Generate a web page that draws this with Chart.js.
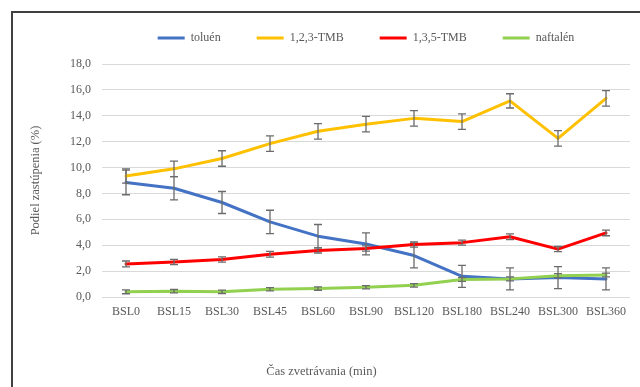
<!DOCTYPE html>
<html>
<head>
<meta charset="utf-8">
<script src="https://cdn.jsdelivr.net/npm/chart.js@4/dist/chart.umd.min.js"></script>
<style>
  html, body { margin: 0; padding: 0; background: #fff; overflow: hidden; }
  #frame {
    position: absolute; left: 11px; top: 11px; width: 700px; height: 400px;
    border-top: 2px solid #404040; border-left: 2px solid #404040;
  }
  #canvas { position: absolute; left: 0; top: 0; }
</style>
</head>
<body>
<div id="frame"><canvas id="canvas" width="627" height="374"></canvas></div>
<script>
const categories = ['BSL0', 'BSL15', 'BSL30', 'BSL45', 'BSL60', 'BSL90', 'BSL120', 'BSL180', 'BSL240', 'BSL300', 'BSL360'];

const toluen = [8.85, 8.4, 7.3, 5.8, 4.7, 4.1, 3.2, 1.6, 1.4, 1.5, 1.4];
const toluenErr = [0.95, 0.9, 0.85, 0.9, 0.9, 0.85, 0.95, 0.85, 0.85, 0.85, 0.85];

const tmb123 = [9.35, 9.9, 10.7, 11.85, 12.8, 13.35, 13.8, 13.55, 15.15, 12.25, 15.35];
const tmb123Err = [0.55, 0.6, 0.6, 0.6, 0.6, 0.6, 0.6, 0.6, 0.55, 0.6, 0.6];

const tmb135 = [2.55, 2.7, 2.9, 3.3, 3.6, 3.75, 4.05, 4.2, 4.65, 3.7, 4.95];
const tmb135Err = [0.23, 0.2, 0.2, 0.22, 0.2, 0.2, 0.2, 0.2, 0.22, 0.2, 0.22];

const naftalen = [0.4, 0.45, 0.4, 0.6, 0.65, 0.75, 0.9, 1.35, 1.4, 1.65, 1.7];
const naftalenErr = [0.15, 0.13, 0.13, 0.13, 0.13, 0.13, 0.13, 0.15, 0.15, 0.15, 0.15];

const serif = "'Liberation Serif', 'Times New Roman', serif";
const textColor = '#595959';

// vertical error bars with caps, drawn right after each line
const errorBars = {
  id: 'errorBars',
  afterDatasetDraw(chart, args) {
    const ds = chart.data.datasets[args.index];
    if (!ds.errors) return;
    const ctx = chart.ctx;
    const y = chart.scales.y;
    ctx.save();
    ctx.strokeStyle = '#6b6b6b';
    ctx.lineWidth = 1.3;
    args.meta.data.forEach((pt, i) => {
      const top = y.getPixelForValue(ds.data[i] + ds.errors[i]);
      const bottom = y.getPixelForValue(ds.data[i] - ds.errors[i]);
      ctx.beginPath();
      ctx.moveTo(pt.x, top);
      ctx.lineTo(pt.x, bottom);
      ctx.moveTo(pt.x - 4, top);
      ctx.lineTo(pt.x + 4, top);
      ctx.moveTo(pt.x - 4, bottom);
      ctx.lineTo(pt.x + 4, bottom);
      ctx.stroke();
    });
    ctx.restore();
  }
};

// a bit more room between the legend and the plot
const legendGap = {
  id: 'legendGap',
  beforeInit(chart) {
    const fit = chart.legend.fit;
    chart.legend.fit = function () {
      fit.bind(chart.legend)();
      this.height += 10;
    };
  }
};

const series = (label, data, errors, color, order) => ({
  label,
  data,
  errors,
  order,
  borderColor: color,
  backgroundColor: color,
  borderWidth: 3,
  borderCapStyle: 'round',
  borderJoinStyle: 'round',
  pointRadius: 0,
  tension: 0,
  fill: false,
});

new Chart(document.getElementById('canvas'), {
  type: 'line',
  data: {
    labels: categories,
    datasets: [
      series('toluén', toluen, toluenErr, '#4472C4', 4),
      series('1,2,3-TMB', tmb123, tmb123Err, '#FFC000', 3),
      series('1,3,5-TMB', tmb135, tmb135Err, '#FF0000', 2),
      series('naftalén', naftalen, naftalenErr, '#92D050', 1),
    ]
  },
  options: {
    responsive: false,
    animation: false,
    layout: { padding: { top: -17, right: 10, bottom: 0, left: 0 } },
    plugins: {
      tooltip: { enabled: false },
      legend: {
        position: 'top',
        fullSize: false,
        labels: {
          usePointStyle: true,
          pointStyle: 'line',
          pointStyleWidth: 27,
          boxHeight: 3,
          padding: 36,
          color: textColor,
          font: { family: serif, size: 12 },
          sort: (a, b) => a.datasetIndex - b.datasetIndex,
        }
      },
      title: {
        display: true,
        position: 'bottom',
        text: 'Čas zvetrávania (min)',
        color: textColor,
        font: { family: serif, size: 12.5, weight: 'normal' },
        padding: { top: 37.5, bottom: 7.5 },
      }
    },
    scales: {
      x: {
        offset: true,
        grid: { display: false, drawTicks: false },
        border: { display: false },
        ticks: { color: textColor, font: { family: serif, size: 12 }, padding: 8, maxRotation: 0 },
        afterFit: scale => { scale.height = 30; },
      },
      y: {
        min: 0,
        max: 18,
        grid: { color: '#D9D9D9', lineWidth: 1, drawTicks: false },
        border: { display: false },
        ticks: {
          stepSize: 2,
          padding: 11,
          color: textColor,
          font: { family: serif, size: 12 },
          callback: v => v.toFixed(1).replace('.', ','),
        },
        title: {
          display: true,
          text: 'Podiel zastúpenia (%)',
          color: textColor,
          font: { family: serif, size: 12.5 },
          padding: { top: 15.5, bottom: 0 },
        },
        afterFit: scale => { scale.width = 89; },
      }
    }
  },
  plugins: [errorBars, legendGap]
});
</script>
</body>
</html>
